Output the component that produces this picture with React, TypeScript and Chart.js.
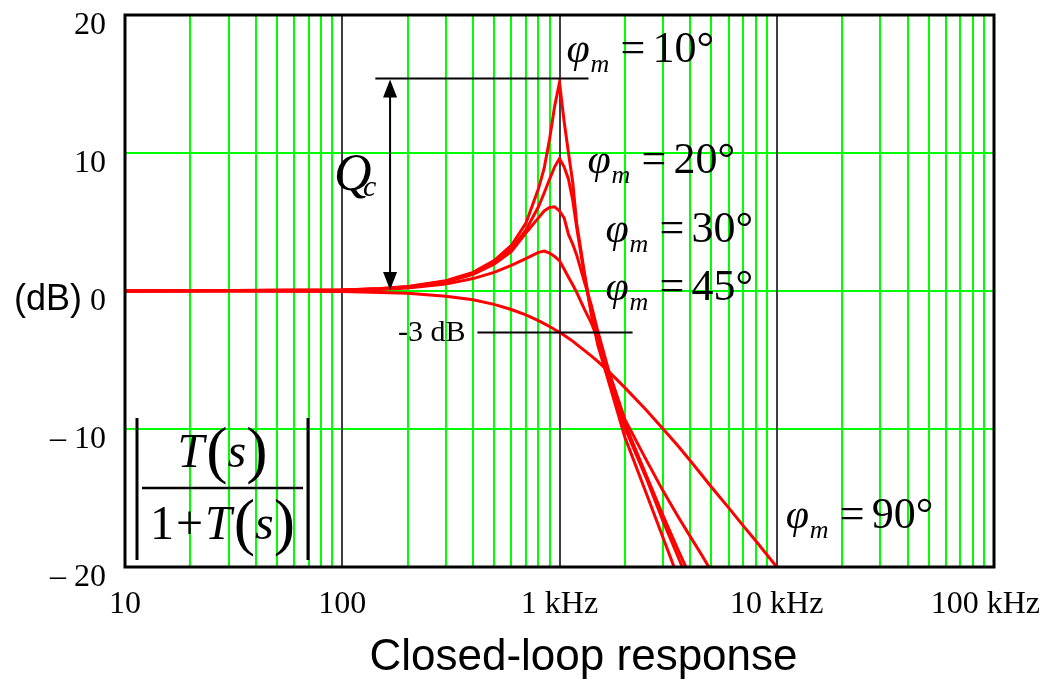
import { useEffect, useRef } from 'react';
import { Chart, registerables } from 'chart.js';

Chart.register(...registerables);

// Frequency grid (Hz) shared by every closed-loop curve
const freqHz = [10, 100, 150, 200, 300, 400, 500, 600, 700, 800, 850, 900, 950, 1000, 1050, 1100, 1150, 1200, 1300, 1400, 1500, 1700, 2000, 2500, 3000, 3500, 4000, 4500, 5000, 6000, 7000, 8000, 10000, 11000];

// |T/(1+T)| in dB for each phase margin
const pm10 = [0, 0.08, 0.18, 0.32, 0.75, 1.35, 2.2, 3.3, 4.9, 7.4, 8.9, 11.0, 13.4, 15.1, 12.3, 10.0, 7.9, 4.9, 1.4, -1.6, -3.9, -6.8, -10.6, -14.6, -17.9, -20.7, null, null, null, null, null, null, null, null];
const pm20 = [0, 0.07, 0.16, 0.3, 0.7, 1.28, 2.05, 3.05, 4.4, 6.1, 7.1, 8.1, 9.0, 9.6, 9.0, 8.1, 6.6, 4.6, 1.2, -1.6, -3.7, -6.5, -9.9, -13.5, -16.7, -19.2, -21.4, null, null, null, null, null, null, null];
const pm30 = [0, 0.07, 0.15, 0.28, 0.65, 1.2, 1.95, 2.85, 4.2, 5.3, 5.8, 6.05, 6.1, 5.8, 5.3, 4.1, 3.4, 2.6, 0.7, -1.0, -2.9, -6.0, -9.6, -13.3, -16.3, -18.7, -20.7, null, null, null, null, null, null, null];
const pm45 = [0, 0.05, 0.12, 0.22, 0.5, 0.9, 1.35, 1.85, 2.35, 2.8, 2.9, 2.75, 2.5, 2.2, 1.6, 1.0, 0.45, -0.1, -1.3, -2.3, -3.5, -6.0, -9.3, -12.2, -14.5, -16.3, -17.8, -19.1, -20.3, null, null, null, null, null];
const pm90 = [0, -0.04, -0.1, -0.17, -0.38, -0.64, -0.97, -1.34, -1.73, -2.15, -2.36, -2.57, -2.79, -3.0, -3.2, -3.42, -3.63, -3.87, -4.3, -4.7, -5.1, -5.9, -7.0, -8.6, -10.0, -11.2, -12.3, -13.3, -14.2, -15.7, -17.0, -18.1, -20.0, -20.8];

const phaseMargins = [10, 20, 30, 45, 90];
const seriesDb = [pm10, pm20, pm30, pm45, pm90];

// Label anchors for each curve: [frequency Hz, dB] of the φ glyph's left edge / baseline
const labelFreq = [1077, 1346, 1629, 1629, 11003];
const labelDb = [16.6, 8.55, 3.55, -0.65, -17.2];

const xTickValues = [10, 100, 1000, 10000, 100000];
const xTickLabels = ['10', '100', '1 kHz', '10 kHz', '100 kHz'];
const yTickValues = [20, 10, 0, -10, -20];
const yTickLabels = ['20', '10', '0', '\u2013 10', '\u2013 20'];

const SERIF = '"Liberation Serif", "Times New Roman", serif';
const SANS = '"Liberation Sans", Arial, sans-serif';
const GREEN = '#00ff00';
const RED = '#ff0000';

function drawPhiLabel(ctx: CanvasRenderingContext2D, x0: number, base: number, deg: number) {
  ctx.textAlign = 'left';
  ctx.textBaseline = 'alphabetic';
  ctx.font = `italic 42px ${SERIF}`;
  ctx.fillText('\u03C6', x0, base);
  ctx.font = `italic 26px ${SERIF}`;
  ctx.fillText('m', x0 + 24, base + 10);
  ctx.font = `44px ${SERIF}`;
  ctx.fillText('=', x0 + 54, base);
  ctx.fillText(`${deg}\u00B0`, x0 + 86, base);
}

function drawPieces(ctx: CanvasRenderingContext2D, pieces: [string, string, number][], cx: number, base: number) {
  const widths = pieces.map(([t, f]) => {
    ctx.font = f;
    return ctx.measureText(t).width;
  });
  const total = widths.reduce((a, b) => a + b, 0);
  let x = cx - total / 2;
  pieces.forEach(([t, f, dy], i) => {
    ctx.font = f;
    ctx.fillText(t, x, base + dy);
    x += widths[i];
  });
}

// Log-decade grid: green minor lines, black decade lines
const gridPlugin = {
  id: 'bodeGrid',
  beforeDatasetsDraw(chart: Chart) {
    const { ctx, chartArea: a } = chart;
    const xs = chart.scales.x;
    const ys = chart.scales.y;
    ctx.save();
    ctx.lineWidth = 2;
    ctx.strokeStyle = GREEN;
    ctx.beginPath();
    for (let d = 10; d < 100000; d *= 10) {
      for (let m = 2; m < 10; m++) {
        const x = Math.round(xs.getPixelForValue(d * m));
        ctx.moveTo(x, a.top);
        ctx.lineTo(x, a.bottom);
      }
    }
    [-10, 0, 10].forEach((v) => {
      const y = Math.round(ys.getPixelForValue(v));
      ctx.moveTo(a.left, y);
      ctx.lineTo(a.right, y);
    });
    ctx.stroke();
    ctx.strokeStyle = '#000';
    ctx.lineWidth = 1.5;
    ctx.beginPath();
    [100, 1000, 10000].forEach((v) => {
      const x = Math.round(xs.getPixelForValue(v));
      ctx.moveTo(x, a.top);
      ctx.lineTo(x, a.bottom);
    });
    ctx.stroke();
    ctx.restore();
  },
};

const framePlugin = {
  id: 'frame',
  afterDatasetsDraw(chart: Chart) {
    const { ctx, chartArea: a } = chart;
    ctx.save();
    ctx.strokeStyle = '#000';
    ctx.lineWidth = 3;
    ctx.strokeRect(a.left, a.top, a.right - a.left, a.bottom - a.top);
    ctx.restore();
  },
};

const textPlugin = {
  id: 'texts',
  afterDraw(chart: Chart) {
    const { ctx, chartArea: a } = chart;
    const xs = chart.scales.x;
    const ys = chart.scales.y;
    ctx.save();
    ctx.fillStyle = '#000';
    ctx.strokeStyle = '#000';
    ctx.textBaseline = 'alphabetic';

    // x tick labels
    ctx.font = `32px ${SERIF}`;
    ctx.textAlign = 'left';
    xTickValues.forEach((v, i) => {
      const w = ctx.measureText(xTickLabels[i]).width;
      let left = xs.getPixelForValue(v) - w / 2;
      left = Math.min(left, chart.width - 4 - w);
      ctx.fillText(xTickLabels[i], left, a.bottom + 46);
    });

    // y tick labels
    ctx.textAlign = 'right';
    yTickValues.forEach((v, i) => {
      ctx.fillText(yTickLabels[i], a.left - 19, ys.getPixelForValue(v) + 19);
    });
    ctx.font = `36px ${SANS}`;
    ctx.fillText('(dB)', a.left - 43, ys.getPixelForValue(0) + 19);

    // axis title
    ctx.textAlign = 'center';
    ctx.font = `44px ${SANS}`;
    ctx.fillText('Closed-loop response', (a.left + a.right) / 2 + 24, a.bottom + 103);

    // phase-margin labels
    phaseMargins.forEach((deg, i) => {
      drawPhiLabel(ctx, xs.getPixelForValue(labelFreq[i]), ys.getPixelForValue(labelDb[i]), deg);
    });

    // Qc: peak marker line and double arrow down to 0 dB
    const peakY = ys.getPixelForValue(Math.max(...(pm10.filter((v) => v !== null) as number[]))) - 4;
    const zeroY = ys.getPixelForValue(0) - 1;
    ctx.lineWidth = 2;
    ctx.beginPath();
    ctx.moveTo(xs.getPixelForValue(142), peakY);
    ctx.lineTo(xs.getPixelForValue(1360), peakY);
    ctx.stroke();
    const ax = xs.getPixelForValue(166);
    ctx.beginPath();
    ctx.moveTo(ax, peakY + 10);
    ctx.lineTo(ax, zeroY - 10);
    ctx.stroke();
    ctx.beginPath();
    ctx.moveTo(ax, peakY + 1);
    ctx.lineTo(ax - 7, peakY + 19);
    ctx.lineTo(ax + 7, peakY + 19);
    ctx.closePath();
    ctx.fill();
    ctx.beginPath();
    ctx.moveTo(ax, zeroY);
    ctx.lineTo(ax - 7, zeroY - 18);
    ctx.lineTo(ax + 7, zeroY - 18);
    ctx.closePath();
    ctx.fill();
    ctx.textAlign = 'left';
    ctx.font = `italic 52px ${SERIF}`;
    ctx.fillText('Q', ax - 56, 190);
    ctx.font = `italic 30px ${SERIF}`;
    ctx.fillText('c', ax - 27, 196);

    // -3 dB marker
    const m3 = ys.getPixelForValue(-3);
    const l0 = xs.getPixelForValue(419);
    ctx.beginPath();
    ctx.moveTo(l0, m3);
    ctx.lineTo(xs.getPixelForValue(2170), m3);
    ctx.stroke();
    ctx.font = `30px ${SERIF}`;
    ctx.textAlign = 'right';
    ctx.fillText('-3 dB', l0 - 12, m3 + 9);

    // |T(s) / (1 + T(s))|
    ctx.textAlign = 'left';
    const fl = a.left + 17;
    const fr = a.left + 178;
    const fy = 488;
    ctx.lineWidth = 2.5;
    ctx.beginPath();
    ctx.moveTo(fl, fy);
    ctx.lineTo(fr, fy);
    ctx.stroke();
    ctx.lineWidth = 3;
    ctx.beginPath();
    ctx.moveTo(fl - 5, 418);
    ctx.lineTo(fl - 5, 560);
    ctx.moveTo(fr + 5, 418);
    ctx.lineTo(fr + 5, 560);
    ctx.stroke();
    const it = `italic 48px ${SERIF}`;
    const up = `48px ${SERIF}`;
    const par = `64px ${SERIF}`;
    const gap = `8px ${SERIF}`;
    const cx = (fl + fr) / 2;
    drawPieces(ctx, [['T', it, 0], [' ', gap, 0], ['(', par, 4], ['s', it, 0], [')', par, 4]], cx, 467);
    drawPieces(ctx, [['1', up, 0], [' ', gap, 0], ['+', up, 0], [' ', gap, 0], ['T', it, 0], [' ', gap, 0], ['(', par, 4], ['s', it, 0], [')', par, 4]], cx, 539);
    ctx.restore();
  },
};

export default function App() {
  const ref = useRef<HTMLCanvasElement>(null);

  useEffect(() => {
    if (!ref.current) return;
    const datasets = seriesDb.map((vals, i) => ({
      label: `\u03C6m = ${phaseMargins[i]}\u00B0`,
      data: freqHz.map((f, j) => ({ x: f, y: vals[j] })),
      borderColor: RED,
      borderWidth: 3,
      pointRadius: 0,
      tension: 0,
      fill: false,
      spanGaps: false,
    }));
    const chart = new Chart(ref.current, {
      type: 'line',
      data: { datasets },
      options: {
        responsive: false,
        animation: false,
        layout: { padding: { left: 125, right: 50, top: 15, bottom: 117 } },
        plugins: { legend: { display: false }, tooltip: { enabled: false }, title: { display: false } },
        scales: {
          x: {
            type: 'logarithmic',
            min: 10,
            max: 100000,
            ticks: { display: false },
            grid: { display: false, drawTicks: false },
            border: { display: false },
          },
          y: {
            type: 'linear',
            min: -20,
            max: 20,
            ticks: { display: false, stepSize: 10 },
            grid: { display: false, drawTicks: false },
            border: { display: false },
          },
        },
      },
      plugins: [gridPlugin, framePlugin, textPlugin],
    } as any);
    return () => chart.destroy();
  }, []);

  return (
    <canvas
      ref={ref}
      width={1044}
      height={684}
      style={{ position: 'absolute', left: 0, top: 0, width: 1044, height: 684 }}
    />
  );
}
